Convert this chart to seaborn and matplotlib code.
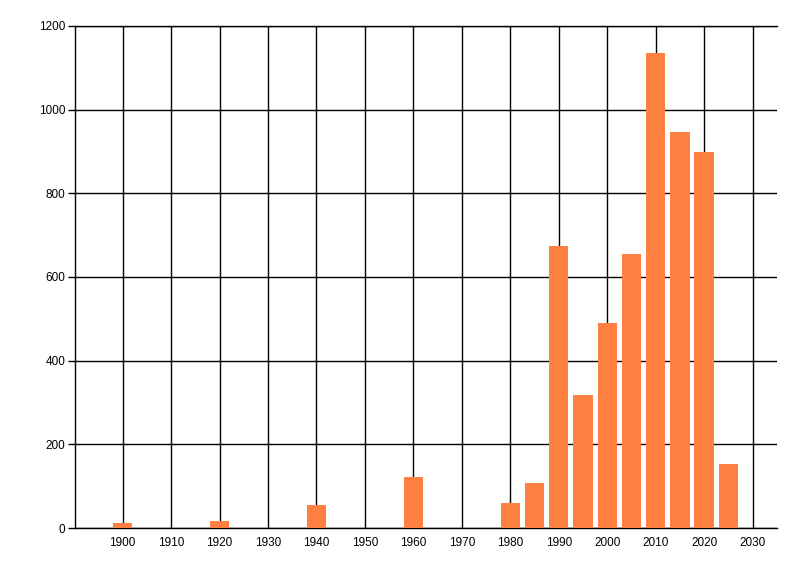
import matplotlib
matplotlib.use('Agg')
import matplotlib.pyplot as plt
import seaborn as sns
import pandas as pd

# Data
years = [1900, 1920, 1940, 1960, 1980, 1985, 1990, 1995, 2000, 2005, 2010, 2015, 2020, 2025]
counts = [12, 17, 55, 122, 60, 108, 674, 318, 490, 655, 1136, 947, 899, 153]
x_ticks = list(range(1900, 2031, 10))
y_ticks = list(range(0, 1201, 200))

df = pd.DataFrame({'year': years, 'count': counts})

sns.set_style('white')
plt.rcParams['font.family'] = ['Liberation Sans', 'DejaVu Sans']

fig = plt.figure(figsize=(8, 5.76), dpi=100)
ax = fig.add_axes([0.094, 0.0833, 0.877, 0.8716])

sns.barplot(data=df, x='year', y='count', native_scale=True, width=0.8,
            color='#FF8040', saturation=1, linewidth=0, edgecolor='none',
            ax=ax, zorder=3)

ax.set_xlim(1890.2, 2035)
ax.set_ylim(0, 1200)
ax.set_xticks(x_ticks)
ax.set_yticks(y_ticks)
ax.set_xticklabels([str(t) for t in x_ticks], fontsize=8.5, color='black')
ax.set_yticklabels([str(t) for t in y_ticks], fontsize=8.5, color='black')
ax.set_xlabel('')
ax.set_ylabel('')

ax.grid(True, color='black', linewidth=1, zorder=0)
ax.set_axisbelow(True)
ax.spines['right'].set_visible(False)
for side in ['left', 'top', 'bottom']:
    ax.spines[side].set_color('black')
    ax.spines[side].set_linewidth(1)

ax.tick_params(axis='y', left=True, length=5, width=1, color='black', pad=2)
ax.tick_params(axis='x', bottom=False, pad=3)

fig.savefig('out.png', dpi=100)
